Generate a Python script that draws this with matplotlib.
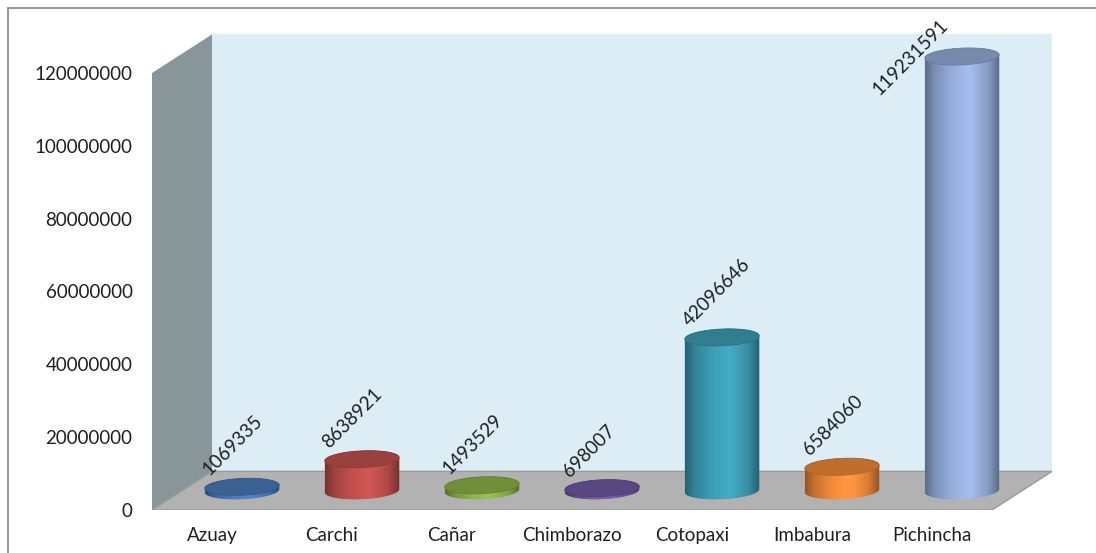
import numpy as np
import matplotlib
matplotlib.use("Agg")
import matplotlib.pyplot as plt
from matplotlib.patches import Polygon, Rectangle
from matplotlib.colors import to_rgb

# Provincias y valores
provincias = ["Azuay", "Carchi", "Cañar", "Chimborazo", "Cotopaxi", "Imbabura", "Pichincha"]
valores = [1069335, 8638921, 1493529, 698007, 42096646, 6584060, 119231591]
colores = ["#4A7AB8", "#C0504D", "#8DB24A", "#7158A0", "#3E9DB5", "#F08A3A", "#95ADDA"]
yticks = [0, 20000000, 40000000, 60000000, 80000000, 100000000, 120000000]

# Profundidad de la caja 3D (en unidades de categoria y de valor)
PROF_X = 0.5
PROF_Y = 10.6e6
RADIO = 0.31
ELIP = 2.3e6
INCL = 0.45e6

plt.rcParams["font.family"] = ["Lato", "DejaVu Sans"]
TXT = "#1f1f1f"
FS = 13.5

fig = plt.figure(figsize=(10.96, 5.53), dpi=100)
ax = fig.add_axes([152 / 1096, 43 / 553, 7.62 * 120 / 1096, 437 * 1.125 / 553])
ax.set_xlim(-0.5, 7.12)
ax.set_ylim(0, 135e6)

# marco exterior
fig.patches.append(Rectangle((8 / 1096, -0.1), 1.2, (553 - 8) / 553 + 0.1,
                             transform=fig.transFigure, fill=False,
                             edgecolor="#8c8c8c", linewidth=1.3))

n = len(provincias)
# pared del fondo, pared lateral y piso
ax.add_patch(Polygon([(0, PROF_Y), (n, PROF_Y), (n, 120e6 + PROF_Y), (0, 120e6 + PROF_Y)],
                     facecolor="#DCEDF6", edgecolor="none", zorder=1))
ax.add_patch(Polygon([(-0.5, 0), (0, PROF_Y), (0, 120e6 + PROF_Y), (-0.5, 120e6)],
                     facecolor="#899699", edgecolor="none", zorder=1))
ax.add_patch(Polygon([(-0.5, 0), (n - 0.5, 0), (n, PROF_Y), (0, PROF_Y)],
                     facecolor="#B2B2B2", edgecolor="#9a9a9a", linewidth=1.0, zorder=1))


def tono(c, f):
    r = np.array(to_rgb(c)) * f
    return np.clip(r, 0, 1)


perfil_x = np.array([0.0, 0.12, 0.35, 0.6, 0.85, 1.0])
perfil_f = np.array([0.62, 0.82, 1.0, 1.1, 0.9, 0.6])
t = np.linspace(0, 2 * np.pi, 200)

for i, (nombre, v, c) in enumerate(zip(provincias, valores, colores)):
    cx = i + PROF_X / 2
    yb = PROF_Y / 2
    yt = yb + v

    # contorno del cuerpo: mitad inferior de la base + mitad superior de la tapa
    tb = np.linspace(np.pi, 2 * np.pi, 80)
    tt = np.linspace(0, np.pi, 80)
    base = np.column_stack([cx + RADIO * np.cos(tb), yb + ELIP * np.sin(tb) + INCL * np.cos(tb)])
    top = np.column_stack([cx + RADIO * np.cos(tt), yt + ELIP * np.sin(tt) + INCL * np.cos(tt)])
    cuerpo = Polygon(np.vstack([base, top]), closed=True, facecolor=c,
                     edgecolor="none", zorder=3)
    ax.add_patch(cuerpo)

    xs = np.linspace(0, 1, 120)
    grad = np.array([tono(c, f) for f in np.interp(xs, perfil_x, perfil_f)])[None, :, :]
    im = ax.imshow(grad, extent=(cx - RADIO, cx + RADIO, yb - ELIP - INCL, yt + ELIP + INCL),
                   aspect="auto", interpolation="bilinear", zorder=4)
    im.set_clip_path(cuerpo)

    # tapa superior
    tapa = np.column_stack([cx + RADIO * np.cos(t), yt + ELIP * np.sin(t) + INCL * np.cos(t)])
    ax.add_patch(Polygon(tapa, closed=True, facecolor=tono(c, 0.8),
                         edgecolor=tono(c, 0.72), linewidth=0.6, zorder=5))

    # etiqueta de valor (la barra mas alta lleva la etiqueta a su izquierda)
    if yt + ELIP > 115e6:
        desplaz = (-31, -36)
    else:
        desplaz = (5, 0)
    ax.annotate(str(v), xy=(cx - RADIO, yt + ELIP), xytext=desplaz,
                textcoords="offset points", rotation=45, rotation_mode="anchor",
                ha="left", va="bottom", fontsize=FS, color=TXT, zorder=6)

ax.set_xticks(range(n))
ax.set_xticklabels(provincias, fontsize=FS, color=TXT)
ax.set_yticks(yticks)
ax.set_yticklabels([str(y) for y in yticks], fontsize=FS, color=TXT)
ax.tick_params(axis="y", length=0, pad=14)
ax.tick_params(axis="x", length=0, pad=12)
for s in ax.spines.values():
    s.set_visible(False)
ax.set_xlim(-0.5, 7.12)
ax.set_ylim(0, 135e6)

fig.savefig("out.png", dpi=100, facecolor="white")
